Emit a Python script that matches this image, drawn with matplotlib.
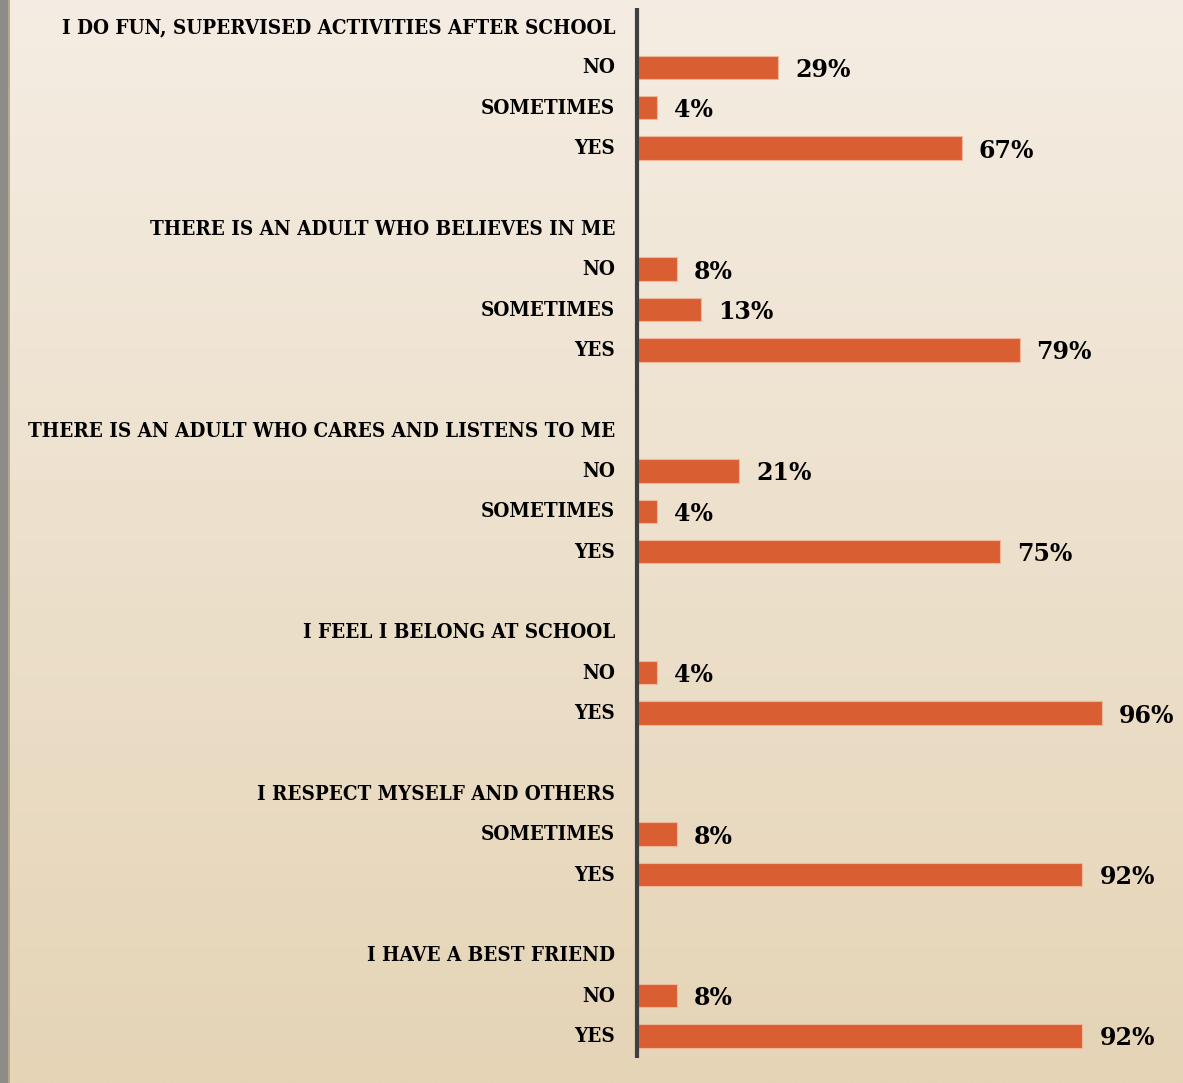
import matplotlib
matplotlib.use("Agg")
import matplotlib.pyplot as plt
import numpy as np
from matplotlib.colors import LinearSegmentedColormap

questions = [
    "I DO FUN, SUPERVISED ACTIVITIES AFTER SCHOOL",
    "THERE IS AN ADULT WHO BELIEVES IN ME",
    "THERE IS AN ADULT WHO CARES AND LISTENS TO ME",
    "I FEEL I BELONG AT SCHOOL",
    "I RESPECT MYSELF AND OTHERS",
    "I HAVE A BEST FRIEND",
]
answers = [
    ["NO", "SOMETIMES", "YES"],
    ["NO", "SOMETIMES", "YES"],
    ["NO", "SOMETIMES", "YES"],
    ["NO", "YES"],
    ["SOMETIMES", "YES"],
    ["NO", "YES"],
]
percents = [
    [29, 4, 67],
    [8, 13, 79],
    [21, 4, 75],
    [4, 96],
    [8, 92],
    [8, 92],
]

bar_color = "#d95f33"
W, H = 1183, 1083
px_per_pct = 4.83
zero_px = 638
row_px = 40.36
first_row_px = 27

fig = plt.figure(figsize=(W / 100, H / 100), dpi=100)

# cream-to-tan vertical gradient behind everything
bg = fig.add_axes([0, 0, 1, 1])
grad = np.linspace(0, 1, 1024).reshape(-1, 1)
cmap = LinearSegmentedColormap.from_list("bg", ["#f5ede3", "#e5d4b6"], N=1024)
bg.imshow(grad, aspect="auto", cmap=cmap, extent=[0, 1, 0, 1], origin="upper",
          interpolation="bilinear")
bg.add_patch(plt.Rectangle((0, 0), 8 / W, 1, color="#8e8c89", lw=0))
bg.add_patch(plt.Rectangle((8 / W, 0), 2 / W, 1, color="#b5a88f", lw=0))
bg.set_xlim(0, 1)
bg.set_ylim(0, 1)
bg.axis("off")

ax = fig.add_axes([0, 0, 1, 1])
ax.patch.set_alpha(0)
ax.set_xlim(-zero_px / px_per_pct, (W - zero_px) / px_per_pct)
ax.set_ylim((H - first_row_px) / row_px, -first_row_px / row_px)
ax.axis("off")

label_x = (615 - zero_px) / px_per_pct
cat_font = dict(family="DejaVu Serif", fontstretch="condensed", weight="bold", fontsize=14.8)
val_font = dict(family="DejaVu Serif", weight="bold", fontsize=17)

row = 0
for q, ans, vals in zip(questions, answers, percents):
    ax.text(label_x, row, q, ha="right", va="center", **cat_font)
    ys = np.arange(row + 1, row + 1 + len(ans))
    ax.barh(ys, vals, height=0.58, color=bar_color, edgecolor="#f0b59a", linewidth=0.8)
    for y, a, v in zip(ys, ans, vals):
        ax.text(label_x, y, a, ha="right", va="center", **cat_font)
        ax.text(v + 3.5, y + 0.06, f"{v}%", ha="left", va="center", **val_font)
    row += len(ans) + 2

ax.plot([-0.2, -0.2], [(8 - first_row_px) / row_px, (1058 - first_row_px) / row_px],
        color="#3f3f3f", lw=3, solid_capstyle="butt")

fig.savefig("out.png", dpi=100)
